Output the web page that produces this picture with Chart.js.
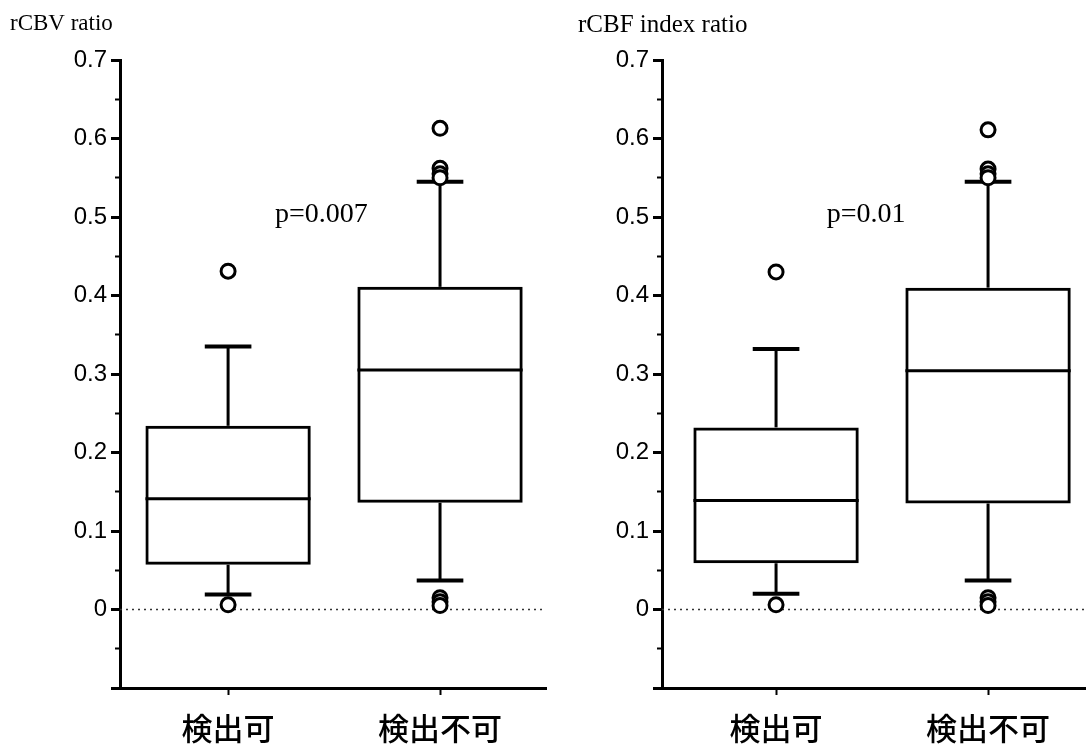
<!DOCTYPE html>
<html>
<head>
<meta charset="utf-8">
<script src="https://cdn.jsdelivr.net/npm/chart.js@4.4.1/dist/chart.umd.min.js"></script>
<style>
html, body { margin: 0; padding: 0; background: #fff; }
#wrap { position: relative; width: 1086px; height: 755px; overflow: hidden; }
canvas { position: absolute; top: 0; }
</style>
</head>
<body>
<div id="wrap">
  <canvas id="cbv" width="556" height="755" style="left:0"></canvas>
  <canvas id="cbf" width="548" height="755" style="left:548px"></canvas>
</div>
<script>
// categories
var groups = ['検出可', '検出不可'];
var yLabels = [0, 0.1, 0.2, 0.3, 0.4, 0.5, 0.6, 0.7];

// rCBV ratio
var cbvQ1 = [0.057, 0.136];
var cbvMedian = [0.141, 0.305];
var cbvQ3 = [0.234, 0.411];
var cbvLow = [0.019, 0.037];
var cbvHigh = [0.335, 0.545];
var cbvOutliers = [[0.431, 0.006], [0.613, 0.562, 0.555, 0.550, 0.015, 0.010, 0.005]];

// rCBF index ratio
var cbfQ1 = [0.059, 0.135];
var cbfMedian = [0.139, 0.304];
var cbfQ3 = [0.232, 0.410];
var cbfLow = [0.020, 0.037];
var cbfHigh = [0.332, 0.545];
var cbfOutliers = [[0.430, 0.006], [0.611, 0.561, 0.555, 0.550, 0.015, 0.010, 0.005]];

var boxHalf = 0.39;
var capHalf = 0.11;

function seg(points, width) {
    return {
        type: 'line',
        data: points,
        borderColor: '#000',
        borderWidth: width || 3,
        pointRadius: 0,
        tension: 0,
        fill: false,
        order: 1
    };
}

function makeChart(id, o) {
    var datasets = [];

    datasets.push({
        type: 'bar',
        data: groups.map(function(g, i) { return { x: i + 1, y: [o.q1[i], o.q3[i]] }; }),
        backgroundColor: 'rgba(255,255,255,0)',
        borderColor: '#000',
        borderWidth: 3,
        borderSkipped: false,
        barPercentage: boxHalf * 2,
        categoryPercentage: 1,
        order: 2
    });

    groups.forEach(function(g, i) {
        var x = i + 1;
        datasets.push(seg([{ x: x, y: o.q3[i] }, { x: x, y: o.high[i] }]));
        datasets.push(seg([{ x: x, y: o.q1[i] }, { x: x, y: o.low[i] }]));
        datasets.push(seg([{ x: x - capHalf, y: o.high[i] }, { x: x + capHalf, y: o.high[i] }], 4));
        datasets.push(seg([{ x: x - capHalf, y: o.low[i] }, { x: x + capHalf, y: o.low[i] }], 4));
        datasets.push(seg([{ x: x - boxHalf, y: o.median[i] }, { x: x + boxHalf, y: o.median[i] }]));
    });

    var pts = [];
    o.out.forEach(function(arr, i) {
        arr.forEach(function(v) { pts.push({ x: i + 1, y: v }); });
    });
    datasets.push({
        type: 'scatter',
        data: pts,
        pointRadius: 7,
        pointBorderWidth: 3,
        pointBackgroundColor: '#fff',
        pointBorderColor: '#000',
        order: 0
    });

    // dotted zero line
    datasets.push({
        type: 'line',
        data: [{ x: o.xMin, y: 0 }, { x: o.xMax, y: 0 }],
        borderColor: '#333',
        borderWidth: 1.5,
        borderDash: [2, 4],
        pointRadius: 0,
        order: 10
    });

    var pNote = {
        id: 'pNote',
        afterDatasetsDraw: function(chart) {
            var ctx = chart.ctx;
            ctx.save();
            ctx.font = '28px "Liberation Serif"';
            ctx.fillStyle = '#000';
            ctx.textAlign = 'center';
            ctx.textBaseline = 'middle';
            ctx.fillText(o.pText, chart.scales.x.getPixelForValue(o.pX), chart.scales.y.getPixelForValue(o.pY));
            ctx.restore();
        }
    };

    return new Chart(document.getElementById(id), {
        type: 'bar',
        data: { datasets: datasets },
        plugins: [pNote],
        options: {
            responsive: false,
            animation: false,
            events: [],
            layout: { padding: { left: o.padLeft, right: o.padRight, top: 0, bottom: 0 } },
            plugins: {
                legend: { display: false },
                tooltip: { enabled: false },
                title: {
                    display: true,
                    text: o.title,
                    align: 'start',
                    color: '#000',
                    font: { family: 'Liberation Serif', size: o.titleSize, weight: 'normal' },
                    // keep the plot top at the same height in both panels
                    padding: { top: 10, bottom: 50 - 1.2 * o.titleSize }
                }
            },
            scales: {
                x: {
                    type: 'linear',
                    min: o.xMin,
                    max: o.xMax,
                    offset: false,
                    afterBuildTicks: function(s) {
                        s.ticks = groups.map(function(g, i) { return { value: i + 1 }; });
                    },
                    afterFit: function(s) { s.height = 67; },
                    ticks: {
                        callback: function(v) { return groups[v - 1]; },
                        color: '#000',
                        font: { family: 'Noto Sans CJK JP', size: 31, weight: '500' },
                        padding: 15,
                        maxRotation: 0,
                        autoSkip: false
                    },
                    grid: { drawOnChartArea: false, offset: false, tickLength: 7, tickWidth: 2, tickColor: '#000' },
                    border: { color: '#000', width: 3 }
                },
                y: {
                    type: 'linear',
                    position: 'left',
                    weight: 1,
                    min: -0.1,
                    max: 0.7,
                    afterFit: function(s) { s.width = o.yWidth; },
                    ticks: {
                        stepSize: 0.1,
                        color: '#000',
                        font: { family: 'Liberation Sans', size: 24 },
                        padding: 4,
                        callback: function(v) {
                            var hit = yLabels.filter(function(t) { return Math.abs(t - v) < 1e-6; });
                            if (!hit.length) return '';
                            return hit[0] === 0 ? '0' : hit[0].toFixed(1);
                        }
                    },
                    grid: { drawOnChartArea: false, tickLength: 9, tickWidth: 3, tickColor: '#000' },
                    border: { color: '#000', width: 3 }
                },
                y2: {
                    type: 'linear',
                    position: 'left',
                    weight: 0,
                    min: -0.1,
                    max: 0.7,
                    afterFit: function(s) { s.width = 0; },
                    ticks: { stepSize: 0.05, display: false },
                    grid: { drawOnChartArea: false, tickLength: 5, tickWidth: 2, tickColor: '#000' },
                    border: { display: false }
                }
            }
        }
    });
}

makeChart('cbv', {
    title: 'rCBV ratio', titleSize: 23, pText: 'p=0.007', pX: 1.44, pY: 0.503,
    q1: cbvQ1, median: cbvMedian, q3: cbvQ3, low: cbvLow, high: cbvHigh, out: cbvOutliers,
    xMin: 0.49, xMax: 2.5, padLeft: 10, padRight: 2, yWidth: 110
});

makeChart('cbf', {
    title: 'rCBF index ratio', titleSize: 25, pText: 'p=0.01', pX: 1.425, pY: 0.503,
    q1: cbfQ1, median: cbfMedian, q3: cbfQ3, low: cbfLow, high: cbfHigh, out: cbfOutliers,
    xMin: 0.462, xMax: 2.462, padLeft: 30, padRight: 0, yWidth: 84
});
</script>
</body>
</html>
